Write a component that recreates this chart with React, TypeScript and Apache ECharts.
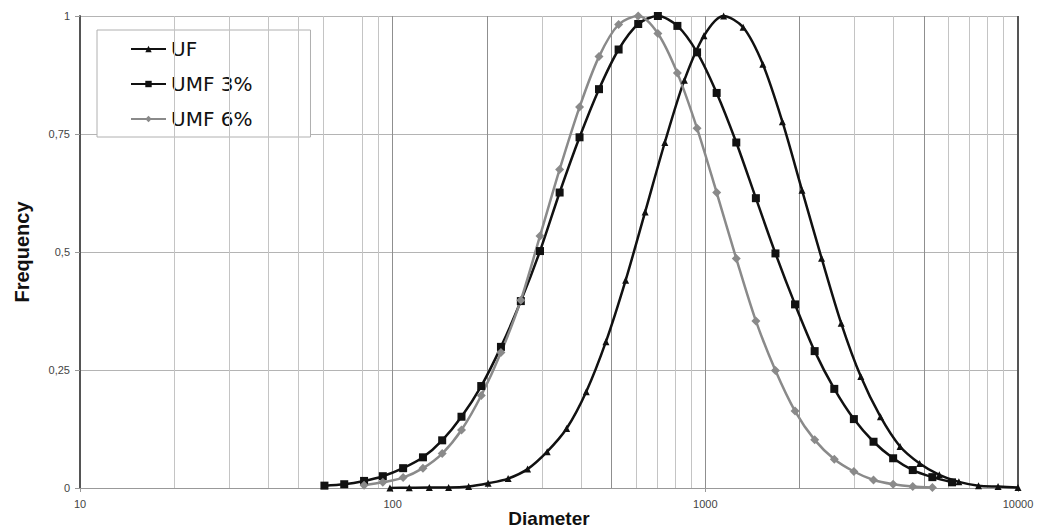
import React, { useEffect, useRef } from "react";
import * as echarts from "echarts";

// ---- data ----
const seriesNames = ["UF", "UMF 3%", "UMF 6%"];

const ufDiameters = [98, 113, 131, 151, 175, 202, 234, 270, 312, 360, 416, 481, 556, 642, 742, 857, 990, 1144, 1321, 1527, 1764, 2038, 2354, 2720, 3143, 3631, 4195, 4847, 5601, 6471, 7476, 8636, 10000];
const ufValues = [0, 0.0005, 0.001, 0.001, 0.003, 0.01, 0.02, 0.04, 0.077, 0.126, 0.204, 0.31, 0.44, 0.585, 0.732, 0.864, 0.958, 1.0, 0.976, 0.898, 0.776, 0.631, 0.487, 0.349, 0.236, 0.151, 0.088, 0.052, 0.028, 0.013, 0.005, 0.003, 0.001];

const umf3Diameters = [60.5, 70, 81, 93, 108, 125, 144, 166, 192, 222, 257, 296, 342, 396, 457, 528, 610, 705, 814, 941, 1087, 1256, 1451, 1676, 1936, 2237, 2585, 2986, 3451, 3987, 4607, 5322, 6150];
const umf3Values = [0.005, 0.008, 0.015, 0.025, 0.042, 0.065, 0.101, 0.151, 0.216, 0.299, 0.396, 0.502, 0.626, 0.743, 0.845, 0.929, 0.983, 1.0, 0.979, 0.923, 0.837, 0.732, 0.614, 0.497, 0.389, 0.29, 0.21, 0.146, 0.098, 0.063, 0.038, 0.023, 0.012];

const umf6Diameters = [81, 93, 108, 125, 144, 166, 192, 222, 257, 296, 342, 396, 457, 528, 610, 705, 814, 941, 1087, 1256, 1451, 1676, 1936, 2237, 2585, 2986, 3451, 3987, 4607, 5322];
const umf6Values = [0.006, 0.012, 0.022, 0.042, 0.073, 0.123, 0.196, 0.287, 0.398, 0.534, 0.675, 0.807, 0.914, 0.982, 1.0, 0.963, 0.879, 0.762, 0.626, 0.486, 0.354, 0.249, 0.163, 0.102, 0.061, 0.035, 0.017, 0.008, 0.003, 0.001];

const yTicks = [0, 0.25, 0.5, 0.75, 1];
const minorGridX = [20, 30, 40, 50, 60, 80, 90, 300, 400, 600, 700, 800, 900, 3000, 4000, 6000, 7000, 8000, 9000];
const majorGridX = [100, 200, 500, 1000, 2000, 5000];
const borderGridX = [10000];

const FONT = "'Liberation Sans', Arial, sans-serif";

const pairs = (xs: number[], ys: number[]) => xs.map((x, i) => [x, ys[i]]);

export default function App() {
  const ref = useRef<HTMLDivElement>(null);

  useEffect(() => {
    if (!ref.current) return;
    const chart = echarts.init(ref.current, undefined, { renderer: "svg" });

    const gridLines = [
      ...minorGridX.map((v) => ({ xAxis: v, lineStyle: { color: "#c4c4c4", width: 1, type: "solid" } })),
      ...majorGridX.map((v) => ({ xAxis: v, lineStyle: { color: "#8f8f8f", width: 1, type: "solid" } })),
      ...borderGridX.map((v) => ({ xAxis: v, lineStyle: { color: "#555555", width: 2, type: "solid" } })),
    ];

    const lineSeries = (name: string, xs: number[], ys: number[], color: string, symbol: string, size: number) => ({
      name,
      type: "line",
      data: pairs(xs, ys),
      smooth: 0.3,
      symbol,
      symbolSize: size,
      showSymbol: true,
      itemStyle: { color },
      lineStyle: { color, width: 2.5 },
      z: 5,
    });

    chart.setOption({
      animation: false,
      backgroundColor: "#ffffff",
      grid: { left: 80, right: 34, top: 16, bottom: 41, containLabel: false, outerBoundsMode: "none" },
      legend: {
        orient: "vertical",
        left: 97,
        top: 30,
        data: seriesNames,
        backgroundColor: "#ffffff",
        borderColor: "#b0b0b0",
        borderWidth: 1,
        padding: [8, 58, 7, 33],
        itemWidth: 35,
        itemHeight: 8,
        itemGap: 13,
        textStyle: { fontSize: 20, fontFamily: "'DejaVu Sans', sans-serif", color: "#111", lineHeight: 22 },
      },
      xAxis: {
        type: "log",
        logBase: 10,
        min: 10,
        max: 10000,
        name: "Diameter",
        nameLocation: "middle",
        nameGap: 21,
        nameMoveOverlap: false,
        nameTextStyle: { fontSize: 19, fontWeight: "bold", fontFamily: FONT, color: "#111", lineHeight: 19, verticalAlign: "top" },
        axisLine: { show: true, lineStyle: { color: "#999", width: 1 } },
        axisTick: { show: true, length: 4, lineStyle: { color: "#999" } },
        axisLabel: {
          fontSize: 11,
          fontFamily: FONT,
          color: "#444",
          margin: 10,
          formatter: (v: number) => String(Math.round(v)),
        },
        splitLine: { show: false },
      },
      yAxis: {
        type: "value",
        min: 0,
        max: 1,
        interval: 0.25,
        name: "Frequency",
        nameLocation: "middle",
        nameGap: 48,
        nameMoveOverlap: false,
        nameTextStyle: { fontSize: 20, fontWeight: "bold", fontFamily: FONT, color: "#111" },
        axisLine: { show: true, lineStyle: { color: "#555", width: 2 } },
        axisTick: { show: true, length: 5, lineStyle: { color: "#999" } },
        axisLabel: {
          fontSize: 11,
          fontFamily: FONT,
          color: "#444",
          margin: 10,
          formatter: (v: number) => (yTicks.includes(v) ? String(v).replace(".", ",") : ""),
        },
        splitLine: { show: true, lineStyle: { color: "#b4b4b4", width: 1 } },
      },
      series: [
        {
          name: "__grid",
          type: "line",
          data: [[10, 0]],
          symbol: "none",
          lineStyle: { opacity: 0 },
          silent: true,
          z: 1,
          markLine: {
            silent: true,
            symbol: ["none", "none"],
            label: { show: false },
            animation: false,
            data: gridLines,
          },
        },
        lineSeries("UF", ufDiameters, ufValues, "#111111", "triangle", 7),
        lineSeries("UMF 3%", umf3Diameters, umf3Values, "#111111", "rect", 8),
        lineSeries("UMF 6%", umf6Diameters, umf6Values, "#8a8a8a", "diamond", 9),
      ],
    });

    return () => chart.dispose();
  }, []);

  return <div ref={ref} style={{ position: "absolute", left: 0, top: 0, width: 1052, height: 529 }} />;
}
